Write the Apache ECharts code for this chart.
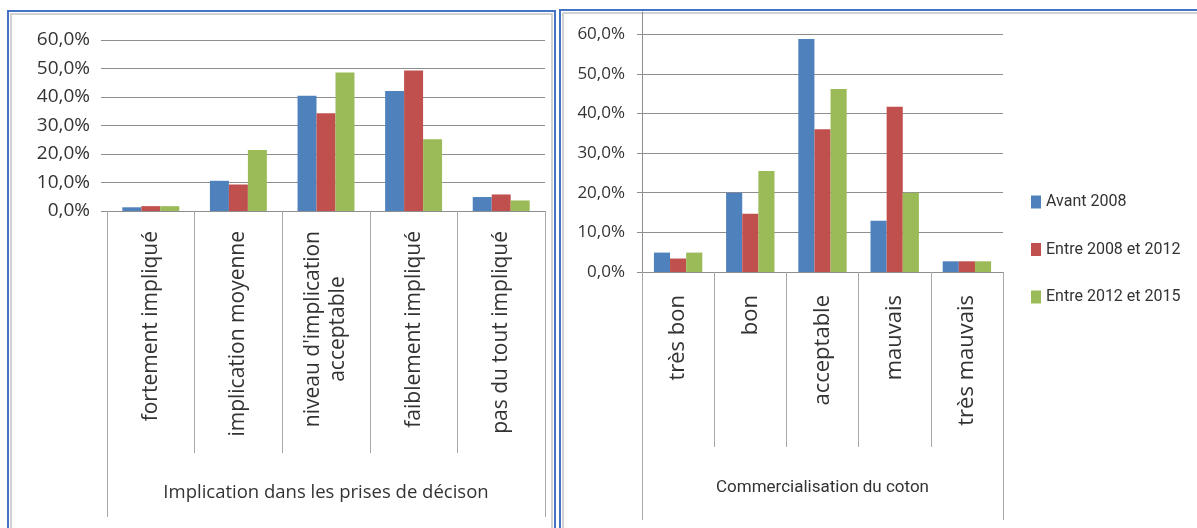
<!DOCTYPE html>
<html>
<head>
<meta charset="utf-8">
<script src="https://cdn.jsdelivr.net/npm/echarts@6/dist/echarts.min.js"></script>
<style>
html,body{margin:0;padding:0;background:#fff;}
#c{width:1197px;height:528px;}
</style>
</head>
<body>
<div id="c"></div>
<script>
// ---- data ----
const leftCategories = ['fortement impliqué', 'implication moyenne', "niveau d'implication\nacceptable", 'faiblement impliqué', 'pas du tout impliqué'];
const rightCategories = ['très bon', 'bon', 'acceptable', 'mauvais', 'très mauvais'];
const seriesNames = ['Avant 2008', 'Entre 2008 et 2012', 'Entre 2012 et 2015'];
const leftAvant2008 = [1.3, 10.6, 40.4, 42.1, 4.9];
const leftEntre2008_2012 = [1.7, 9.3, 34.3, 49.3, 5.8];
const leftEntre2012_2015 = [1.7, 21.4, 48.6, 25.2, 3.7];
const rightAvant2008 = [4.9, 20.0, 58.8, 12.9, 2.7];
const rightEntre2008_2012 = [3.4, 14.7, 36.0, 41.7, 2.7];
const rightEntre2012_2015 = [4.9, 25.5, 46.2, 20.0, 2.7];
const leftAxisTitle = 'Implication dans les prises de décison';
const rightAxisTitle = 'Commercialisation du coton';

const colors = ['#4F81BD', '#C0504D', '#9BBB59'];
const narrow = "Roboto, 'Open Sans', sans-serif";
const txt = '#333333';

const pctFmt = v => v.toFixed(1).replace('.', ',') + '%';

function catFormatter(v) {
  return v.split('\n').map(s => '{c|' + s + '}').join('\n');
}

const chart = echarts.init(document.getElementById('c'), null, {renderer: 'canvas'});

const leftSeries = [leftAvant2008, leftEntre2008_2012, leftEntre2012_2015];
const rightSeries = [rightAvant2008, rightEntre2008_2012, rightEntre2012_2015];

const series = [];
leftSeries.forEach((d, i) => series.push({
  type: 'bar', name: seriesNames[i], xAxisIndex: 0, yAxisIndex: 0, data: d,
  itemStyle: {color: colors[i]}, barGap: '0%', barCategoryGap: '35%'
}));
rightSeries.forEach((d, i) => series.push({
  type: 'bar', name: seriesNames[i], xAxisIndex: 1, yAxisIndex: 1, data: d,
  itemStyle: {color: colors[i]}, barGap: '0%', barCategoryGap: '33%'
}));

const option = {
  animation: false,
  backgroundColor: '#fff',
  color: colors,
  grid: [
    {left: 107, right: 652, top: 40, bottom: 317},
    {left: 642, right: 194, top: 12, bottom: 256}
  ],
  legend: {
    data: seriesNames,
    orient: 'vertical',
    left: 1031, top: 193, padding: 0,
    itemWidth: 10, itemHeight: 13, itemGap: 29.5,
    icon: 'rect',
    textStyle: {fontFamily: narrow, fontSize: 16, lineHeight: 18, color: txt}
  },
  xAxis: [
    {
      type: 'category', gridIndex: 0, data: leftCategories,
      axisLine: {lineStyle: {color: '#8e8e8e'}},
      axisTick: {show: true, interval: 0, length: 242, lineStyle: {color: '#a8a8a8'}},
      axisLabel: {
        interval: 0, rotate: 90, margin: 20, color: txt,
        fontFamily: 'Open Sans', fontSize: 21, lineHeight: 25,
        formatter: catFormatter,
        rich: {c: {align: 'center', fontFamily: 'Open Sans', fontSize: 21, lineHeight: 25, color: txt}}
      },
      name: leftAxisTitle, nameLocation: 'middle', nameGap: 272,
      nameTextStyle: {fontFamily: 'Open Sans', fontSize: 18.5, color: txt}
    },
    {
      type: 'category', gridIndex: 1, data: rightCategories,
      axisLine: {lineStyle: {color: '#8e8e8e'}},
      axisTick: {show: true, interval: 0, length: 175, lineStyle: {color: '#a8a8a8'}},
      axisLabel: {
        interval: 0, rotate: 90, margin: 23, color: txt,
        fontFamily: 'Open Sans', fontSize: 22
      },
      name: rightAxisTitle, nameLocation: 'middle', nameGap: 207,
      nameTextStyle: {fontFamily: narrow, fontSize: 17, color: txt}
    }
  ],
  yAxis: [
    {
      type: 'value', gridIndex: 0, min: 0, max: 60, interval: 10,
      axisLine: {show: false},
      axisTick: {show: true, length: 6, lineStyle: {color: '#8e8e8e'}},
      splitLine: {lineStyle: {color: '#8e8e8e', width: 1}},
      axisLabel: {formatter: pctFmt, margin: 17, color: txt, fontFamily: 'Open Sans', fontSize: 19}
    },
    {
      type: 'value', gridIndex: 1, min: 0, max: 65.6, interval: 10,
      axisLine: {show: true, lineStyle: {color: '#8e8e8e'}},
      axisTick: {show: true, length: 5, lineStyle: {color: '#8e8e8e'}},
      splitLine: {showMaxLine: false, lineStyle: {color: '#8e8e8e', width: 1}},
      axisLabel: {formatter: pctFmt, showMaxLabel: false, margin: 17, color: txt, fontFamily: 'Open Sans', fontSize: 17}
    }
  ],
  series: series,
  graphic: [
    // panel frames
    {type: 'rect', silent: true, shape: {x: 8, y: 11, width: 547, height: 540},
     style: {fill: null, stroke: '#4472C4', lineWidth: 2}},
    {type: 'polyline', silent: true, shape: {points: [[11, 560], [11, 14], [552, 14], [552, 560]]},
     style: {fill: null, stroke: '#c4c4c4', lineWidth: 1.5}},
    {type: 'rect', silent: true, shape: {x: 560, y: 10, width: 660, height: 540},
     style: {fill: null, stroke: '#4472C4', lineWidth: 2}},
    {type: 'polyline', silent: true, shape: {points: [[563, 560], [563, 13], [1220, 13]]},
     style: {fill: null, stroke: '#c4c4c4', lineWidth: 1.5}},
    // outer category-axis borders
    {type: 'line', silent: true, shape: {x1: 107.5, y1: 211, x2: 107.5, y2: 517}, style: {stroke: '#a8a8a8', lineWidth: 1}},
    {type: 'line', silent: true, shape: {x1: 545.5, y1: 211, x2: 545.5, y2: 517}, style: {stroke: '#a8a8a8', lineWidth: 1}},
    {type: 'line', silent: true, shape: {x1: 642.5, y1: 272, x2: 642.5, y2: 520}, style: {stroke: '#a8a8a8', lineWidth: 1}},
    {type: 'line', silent: true, shape: {x1: 1003.5, y1: 272, x2: 1003.5, y2: 520}, style: {stroke: '#a8a8a8', lineWidth: 1}}
  ]
};
chart.setOption(option);
</script>
</body>
</html>
